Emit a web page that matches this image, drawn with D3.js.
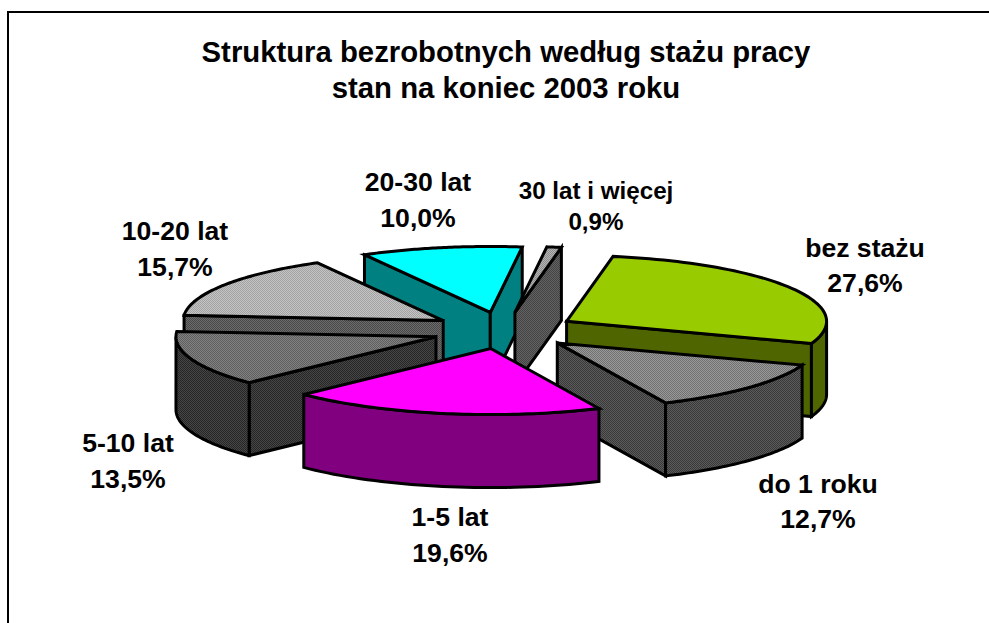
<!DOCTYPE html>
<html><head><meta charset="utf-8">
<script src="https://cdn.jsdelivr.net/npm/d3@7/dist/d3.min.js"></script>
<style>html,body{margin:0;padding:0;background:#fff}svg{display:block}
text{font-family:"Liberation Sans",Arial,sans-serif;font-weight:bold;fill:#000;text-anchor:middle}</style>
</head><body><div id="c"></div>
<script>
// ---- data ----
const categories = ["bez stażu","do 1 roku","1-5 lat","5-10 lat","10-20 lat","20-30 lat","30 lat i więcej"];
const shares = [27.6,12.7,19.6,13.5,15.7,10.0,0.9];
const shareLabels = ["27,6%","12,7%","19,6%","13,5%","15,7%","10,0%","0,9%"];
const titleLines = ["Struktura bezrobotnych według stażu pracy","stan na koniec 2003 roku"];

// ---- styles and layout ----
const W=989,H=623;
const topColors  = [["#99cc00","#99cc00"],["#9a9a9a","#707070"],["#ff00ff","#ff00ff"],["#828282","#5e5e5e"],["#c4c4c4","#a2a2a2"],["#00ffff","#00ffff"],["#b4b4b4","#8c8c8c"]];
const sideColors = [["#4f6600","#4f6600"],["#5c5c5c","#383838"],["#800080","#800080"],["#464646","#262626"],["#6c6c6c","#484848"],["#008080","#008080"],["#626262","#444444"]];
const drawOrder = [5,6,0,4,1,3,2];
const labelAnchors = [[865,257,26.6,35],[818,493,26.6,35],[450,526,26.6,36],[128,452,26.6,36],[175,240,26.6,36],[418,191,26.6,36],[596,199,24.2,31]];
const startDeg = 10.3, cx=504, cy=330.5, rx=260, ry=66, depth=73, explode=0.278;

const svg=d3.select("#c").append("svg").attr("width",W).attr("height",H);
const defs=svg.append("defs");
function pattern(id,[a,b]){
  const p=defs.append("pattern").attr("id",id).attr("width",2).attr("height",2).attr("patternUnits","userSpaceOnUse");
  p.append("rect").attr("width",2).attr("height",2).attr("fill",a);
  p.append("rect").attr("width",1).attr("height",1).attr("fill",b);
  p.append("rect").attr("x",1).attr("y",1).attr("width",1).attr("height",1).attr("fill",b);
  return `url(#${id})`;
}
const topFill=topColors.map((c,i)=>pattern("t"+i,c));
const sideFill=sideColors.map((c,i)=>pattern("s"+i,c));

// frame: open on the right and at the bottom
svg.append("path").attr("d",`M8,${H}V12H${W}`).attr("fill","none").attr("stroke","#000").attr("stroke-width",2);

// title
svg.selectAll("text.title").data(titleLines).join("text").attr("class","title")
  .attr("x",506).attr("y",(d,i)=>62+i*36).attr("font-size",29.3).text(d=>d);

// pie geometry through d3
const rad=d=>d*Math.PI/180;
const arcs=d3.pie().sort(null).startAngle(rad(startDeg)).endAngle(rad(startDeg)+2*Math.PI)(shares);
const sx=d3.scaleLinear().domain([-1,1]).range([cx-rx,cx+rx]);
const sy=d3.scaleLinear().domain([-1,1]).range([cy-ry,cy+ry]);
const line=d3.line().x(p=>p[0]).y(p=>p[1]);
const g=svg.append("g").attr("stroke","#000").attr("stroke-width",3).attr("stroke-linejoin","miter");

function face(pts,fill){g.append("path").attr("d",line(pts)+"Z").attr("fill",fill);}
drawOrder.forEach(i=>{
  const a=arcs[i], mid=(a.startAngle+a.endAngle)/2;
  const ox=explode*Math.sin(mid), oy=-explode*Math.cos(mid);
  const P=t=>[sx(ox+Math.sin(t)),sy(oy-Math.cos(t))];
  const apex=[sx(ox),sy(oy)];
  const down=p=>[p[0],p[1]+depth];
  const s=a.startAngle,e=a.endAngle;
  if(Math.sin(s)<0) face([apex,P(s),down(P(s)),down(apex)],sideFill[i]);
  if(Math.sin(e)>0) face([apex,P(e),down(P(e)),down(apex)],sideFill[i]);
  // outer curved wall, only the part that faces the viewer
  const segs=[[Math.PI/2,3*Math.PI/2],[Math.PI/2+2*Math.PI,3*Math.PI/2+2*Math.PI]];
  segs.forEach(([lo,hi])=>{
    const t0=Math.max(s,lo),t1=Math.min(e,hi);
    if(t1>t0){
      const ts=d3.range(0,41).map(k=>t0+(t1-t0)*k/40);
      face(ts.map(t=>P(t)).concat(ts.slice().reverse().map(t=>down(P(t)))),sideFill[i]);
    }
  });
  const ts=d3.range(0,61).map(k=>s+(e-s)*k/60);
  face([apex].concat(ts.map(t=>P(t))),topFill[i]);
});

// labels
categories.forEach((c,i)=>{
  const [x,y,fs,lh]=labelAnchors[i];
  svg.append("text").attr("x",x).attr("y",y).attr("font-size",fs).text(c);
  svg.append("text").attr("x",x).attr("y",y+lh).attr("font-size",fs).text(shareLabels[i]);
});
</script></body></html>
